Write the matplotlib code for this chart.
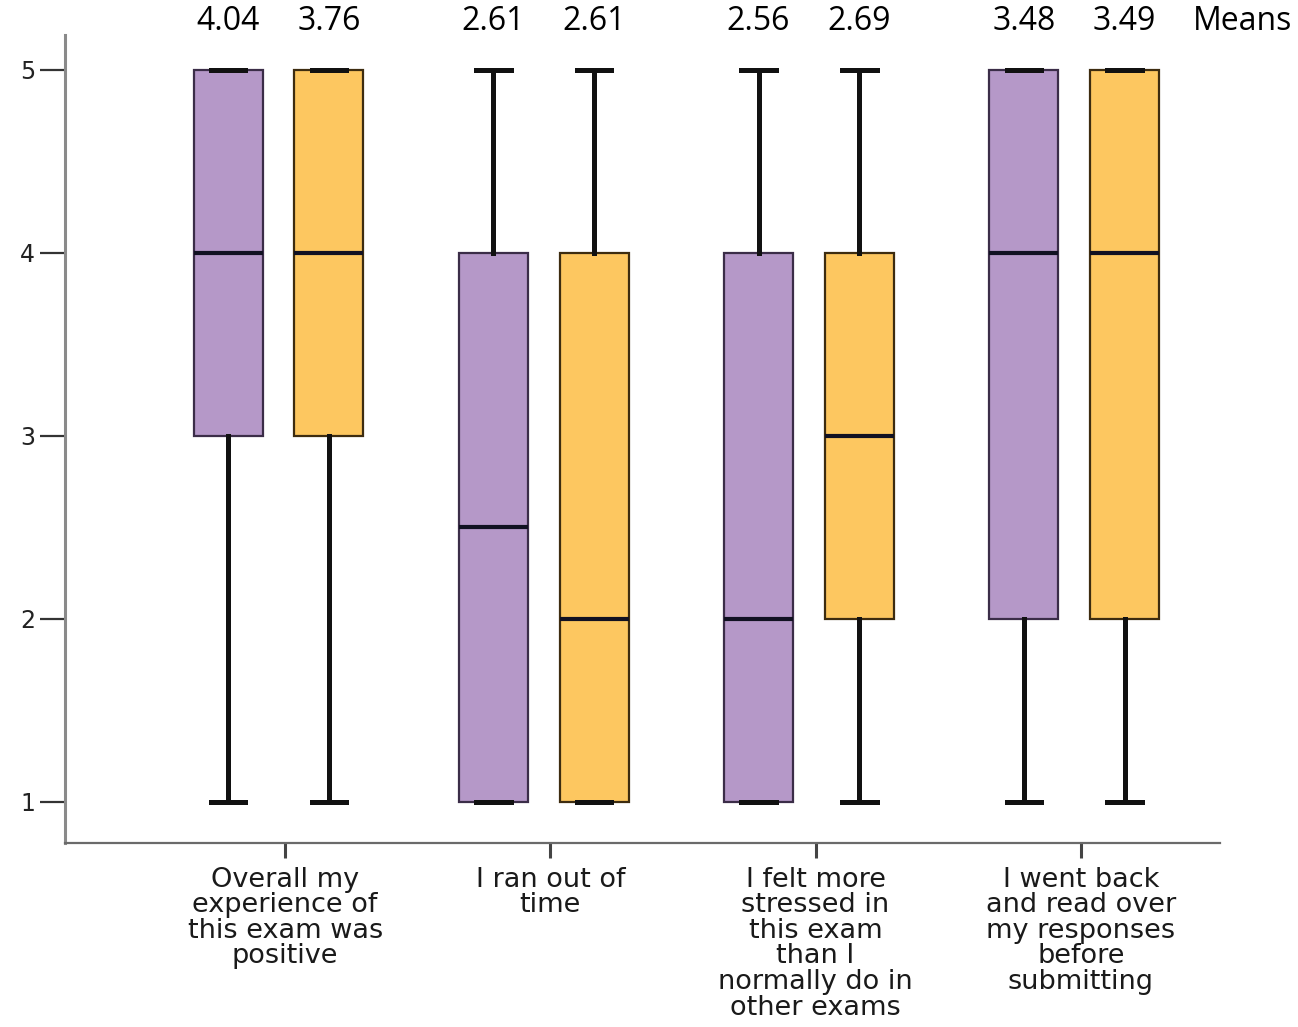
import matplotlib
matplotlib.use("Agg")
import matplotlib.pyplot as plt
from matplotlib.transforms import blended_transform_factory

plt.rcParams["font.family"] = ["DejaVu Sans"]

# Survey items (x categories)
categories = [
    "Overall my\nexperience of\nthis exam was\npositive",
    "I ran out of\ntime",
    "I felt more\nstressed in\nthis exam\nthan I\nnormally do in\nother exams",
    "I went back\nand read over\nmy responses\nbefore\nsubmitting",
]

# Five-number summaries, purple group
purple_lo = [1, 1, 1, 1]
purple_q1 = [3, 1, 1, 2]
purple_med = [4, 2.5, 2, 4]
purple_q3 = [5, 4, 4, 5]
purple_hi = [5, 5, 5, 5]
purple_means = [4.04, 2.61, 2.56, 3.48]

# Five-number summaries, orange group
orange_lo = [1, 1, 1, 1]
orange_q1 = [3, 1, 2, 2]
orange_med = [4, 2, 3, 4]
orange_q3 = [5, 4, 4, 5]
orange_hi = [5, 5, 5, 5]
orange_means = [3.76, 2.61, 2.69, 3.49]

yticks = [1, 2, 3, 4, 5]

PURPLE = "#b598c8"
ORANGE = "#fdc760"


def make_stats(lo, q1, med, q3, hi):
    return [dict(whislo=a, q1=b, med=c, q3=d, whishi=e, fliers=[])
            for a, b, c, d, e in zip(lo, q1, med, q3, hi)]


fig = plt.figure(figsize=(12.98, 10.27), dpi=100)
ax = fig.add_axes([65 / 1298, 1 - 843 / 1027, (1220 - 65) / 1298, (843 - 35) / 1027])

centers = list(range(1, len(categories) + 1))
off = 0.19
width = 0.26

groups = [
    (make_stats(purple_lo, purple_q1, purple_med, purple_q3, purple_hi), -off, PURPLE, "#3b2d48"),
    (make_stats(orange_lo, orange_q1, orange_med, orange_q3, orange_hi), off, ORANGE, "#3d2c10"),
]
for stats, dx, face, edge in groups:
    ax.bxp(stats, positions=[c + dx for c in centers], widths=width,
           showfliers=False, patch_artist=True,
           boxprops=dict(facecolor=face, edgecolor=edge, linewidth=1.6),
           medianprops=dict(color="#111122", linewidth=3),
           whiskerprops=dict(color="#111111", linewidth=3.6),
           capprops=dict(color="#111111", linewidth=3.6))

ax.set_xlim(0.195, 4.55)
ax.set_ylim(0.776, 5.19)

# means printed above each box
trans = blended_transform_factory(ax.transData, fig.transFigure)
for c, pm, om in zip(centers, purple_means, orange_means):
    ax.text(c - off, 1 - 22 / 1027, f"{pm:.2f}", transform=trans, ha="center", va="center",
            fontsize=23, family="Open Sans", color="black", clip_on=False)
    ax.text(c + off, 1 - 22 / 1027, f"{om:.2f}", transform=trans, ha="center", va="center",
            fontsize=23, family="Open Sans", color="black", clip_on=False)
ax.text(4.449, 1 - 22 / 1027, "Means", transform=trans, ha="left", va="center",
        fontsize=23, family="Open Sans", color="black", clip_on=False)

ax.set_yticks(yticks)
ax.set_yticklabels([str(t) for t in yticks], fontsize=17, color="#222222")
ax.set_xticks([c + 0.025 for c in centers])
ax.set_xticklabels(categories, fontsize=19.5, color="#1a1a1a", fontweight="medium",
                   linespacing=0.98, multialignment="center")

ax.tick_params(axis="y", direction="out", length=18, width=1.6, color="#333333", pad=3.5)
ax.tick_params(axis="x", direction="out", length=11, width=2.2, color="#444444", pad=6)

for side in ["top", "right"]:
    ax.spines[side].set_visible(False)
ax.spines["left"].set_color("#8a8a8a")
ax.spines["left"].set_linewidth(2.2)
ax.spines["bottom"].set_color("#6a6a6a")
ax.spines["bottom"].set_linewidth(1.6)

fig.savefig("out.png", dpi=100, facecolor="white")
